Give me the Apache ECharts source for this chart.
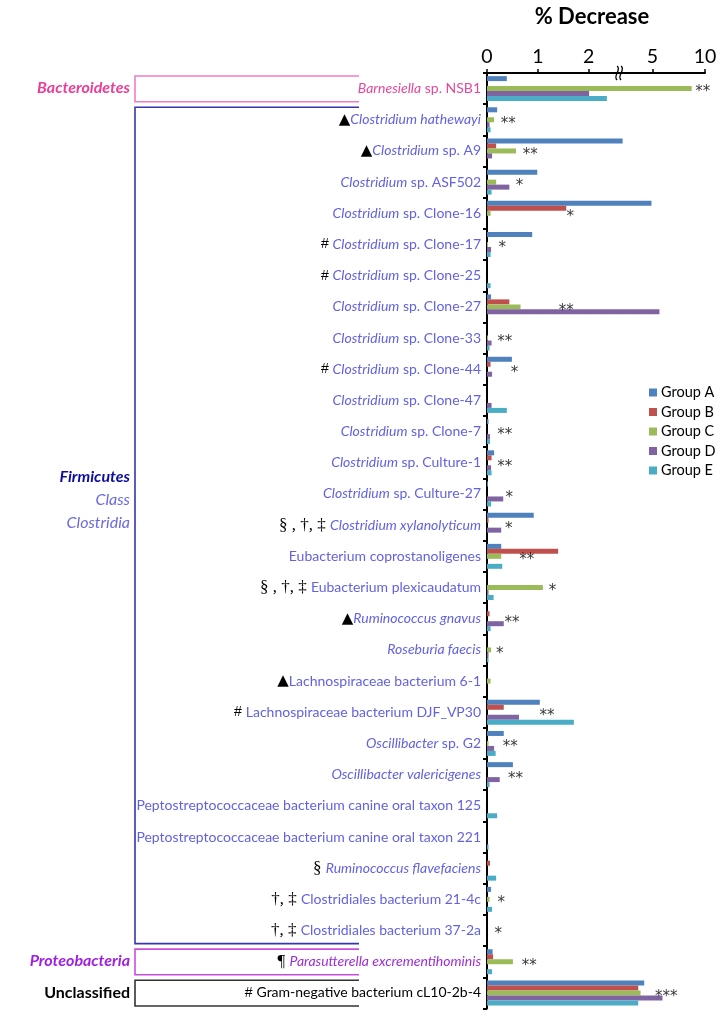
<!DOCTYPE html>
<html><head><meta charset="utf-8">
<script src="https://cdn.jsdelivr.net/npm/echarts@6/dist/echarts.min.js"></script>
<style>html,body{margin:0;padding:0;background:#fff}#c{width:726px;height:1018px}</style>
</head><body><div id="c"></div>
<script>
// ---------------- data ----------------
const categories = [
  "Barnesiella sp. NSB1",
  "▲Clostridium hathewayi",
  "▲Clostridium sp. A9",
  "Clostridium sp. ASF502",
  "Clostridium sp. Clone-16",
  "# Clostridium sp. Clone-17",
  "# Clostridium sp. Clone-25",
  "Clostridium sp. Clone-27",
  "Clostridium sp. Clone-33",
  "# Clostridium sp. Clone-44",
  "Clostridium sp. Clone-47",
  "Clostridium sp. Clone-7",
  "Clostridium sp. Culture-1",
  "Clostridium sp. Culture-27",
  "§ , †, ‡ Clostridium xylanolyticum",
  "Eubacterium coprostanoligenes",
  "§ , †, ‡ Eubacterium plexicaudatum",
  "▲Ruminococcus gnavus",
  "Roseburia faecis",
  "▲Lachnospiraceae bacterium 6-1",
  "# Lachnospiraceae bacterium DJF_VP30",
  "Oscillibacter sp. G2",
  "Oscillibacter valericigenes",
  "Peptostreptococcaceae bacterium canine oral taxon 125",
  "Peptostreptococcaceae bacterium canine oral taxon 221",
  "§ Ruminococcus flavefaciens",
  "†, ‡ Clostridiales bacterium 21-4c",
  "†, ‡ Clostridiales bacterium 37-2a",
  "¶ Parasutterella excrementihominis",
  "# Gram-negative bacterium cL10-2b-4"
];
const groupNames = ["Group A", "Group B", "Group C", "Group D", "Group E"];
const groupA = [0.39,0.20,2.67,0.99,4.90,0.89,0,0.08,0,0.49,0,0.03,0.14,0.02,0.92,0.28,0,0,0,0,1.04,0.33,0.51,0,0,0,0.08,0,0.11,4.21];
const groupB = [0,0,0.18,0,1.56,0,0,0.44,0,0.07,0,0,0.09,0,0.03,1.40,0,0.05,0,0,0.33,0,0,0,0,0.06,0,0,0.12,3.64];
const groupC = [8.73,0.14,0.57,0.18,0.07,0.02,0,0.66,0.02,0,0,0,0,0,0,0.28,1.10,0,0.08,0.07,0,0.03,0,0,0,0,0.05,0,0.51,3.86];
const groupD = [2.01,0.05,0.10,0.44,0,0.08,0,5.66,0.09,0.10,0.09,0.06,0.08,0.32,0.28,0,0.03,0.33,0.03,0,0.63,0.14,0.25,0,0,0,0,0,0,5.95];
const groupE = [2.36,0.07,0,0.09,0,0.07,0.07,0,0.05,0,0.39,0.06,0.09,0.08,0,0.30,0.13,0.07,0.03,0,1.71,0.17,0.05,0.20,0.03,0.18,0.10,0,0.10,3.64];
const significance = ["**","**","**","*","*","*","","**","**","*","","**","**","*","*","**","*","**","*","","**","**","**","","","","*","*","**","***"];
const significanceAt = [9.78,0.42,0.85,0.64,1.64,0.30,null,1.56,0.35,0.54,null,0.35,0.35,0.44,0.43,0.78,1.29,0.49,0.25,null,1.18,0.46,0.56,null,null,null,0.28,0.22,0.83,6.32];
const tickValues = [0, 1, 2, 5, 10];
const phyla = ["Bacteroidetes", "Firmicutes", "Proteobacteria", "Unclassified"];

// ---------------- broken axis transform ----------------
const BREAK_LOW = 2.7;      // lower segment runs linearly up to here
const BREAK_MARK = 2.6;     // where the break symbol is drawn (axis units)
const U5 = 3.258, USLOPE = 0.2066; // upper segment: 5 -> U5, slope per unit
function toAxis(v) { return v <= BREAK_LOW ? v : U5 + (v - 5) * USLOPE; }
function fromAxis(u) { return u <= BREAK_LOW ? u : 5 + (u - U5) / USLOPE; }

// ---------------- styling ----------------
const colors = ["#4F81BD", "#C0504D", "#9BBB59", "#8064A2", "#4BACC6"];
const FONT = "Lato";
const GRID_LEFT = 487, GRID_RIGHT = 21, GRID_TOP = 73, GRID_BOTTOM = 9.5;
const ROW_H = (1018 - GRID_TOP - GRID_BOTTOM) / categories.length;

function labelColorKey(i) {
  if (i === 0) return "pk";
  if (i === 28) return "pu";
  if (i === 29) return "bk";
  return "bl";
}
function richLabel(name, i) {
  const m = name.match(/^([▲#§†‡¶ ,]*)(.*)$/);
  const prefix = m[1], rest = m[2];
  const c = labelColorKey(i);
  let out = "";
  if (prefix) out += (/[#▲]/.test(prefix) ? (/▲/.test(prefix) ? "{tri|" : "{symS|") : "{sym|") + prefix + "}";
  if (/bacterium/.test(rest)) out += "{" + c + "N|" + rest + "}";
  else if (rest.indexOf(" sp. ") > 0) {
    const k = rest.indexOf(" sp. ");
    out += "{" + c + "I|" + rest.slice(0, k) + "}{" + c + "N|" + rest.slice(k) + "}";
  } else out += "{" + c + "I|" + rest + "}";
  return out;
}
const labelColors = { bl: "#6262E2", pk: "#E8479B", pu: "#9D2ED6", bk: "#000000" };
const rich = {
  sym: { fontFamily: "Liberation Serif", fontSize: 17, color: "#000" },
  symS: { fontFamily: "Liberation Sans", fontSize: 14, color: "#000" },
  tri: { fontFamily: "DejaVu Sans", fontSize: 15, color: "#000" }
};
Object.keys(labelColors).forEach(k => {
  rich[k + "I"] = { fontFamily: FONT, fontSize: 14, fontStyle: "italic", color: labelColors[k] };
  rich[k + "N"] = { fontFamily: FONT, fontSize: 14, color: labelColors[k] };
});

const groups = [groupA, groupB, groupC, groupD, groupE];
const series = groups.map((g, gi) => ({
  name: groupNames[gi],
  type: "bar",
  data: g.map(toAxis),
  itemStyle: { color: colors[gi] },
  barGap: "0%",
  barCategoryGap: "20%",
  silent: true
}));
const sigData = [];
significanceAt.forEach((x, i) => {
  if (x != null && significance[i]) sigData.push({ value: [toAxis(x), i], sig: significance[i] });
});
series.push({
  name: "sig",
  type: "scatter",
  symbol: "circle",
  symbolSize: 2,
  itemStyle: { color: "rgba(0,0,0,0)" },
  silent: true,
  z: 5,
  data: sigData,
  label: {
    show: true, position: "inside", offset: [0, 4],
    formatter: p => p.data.sig,
    fontFamily: "DejaVu Sans", fontSize: 15, color: "#000"
  }
});

const chart = echarts.init(document.getElementById("c"), null, { renderer: "canvas" });
chart.setOption({
  animation: false,
  backgroundColor: "#fff",
  grid: { left: GRID_LEFT, right: GRID_RIGHT, top: GRID_TOP, bottom: GRID_BOTTOM, containLabel: false },
  legend: {
    data: groupNames, orient: "vertical", left: 649, top: 385, itemWidth: 8, itemHeight: 8,
    itemGap: 4.5, icon: "rect", padding: 0,
    textStyle: { fontFamily: FONT, fontSize: 14.5, color: "#000", padding: [0, 0, 0, -1] }
  },
  xAxis: {
    type: "value", position: "top", min: 0, max: toAxis(10),
    axisLine: { show: true, lineStyle: { color: "#000", width: 2 } },
    axisTick: { show: true, customValues: tickValues.map(toAxis), length: 4, lineStyle: { color: "#000", width: 1.5 } },
    axisLabel: {
      customValues: tickValues.map(toAxis),
      formatter: v => String(Math.round(fromAxis(v))),
      fontFamily: FONT, fontSize: 19.5, color: "#000", margin: 6
    },
    splitLine: { show: false }
  },
  yAxis: {
    type: "category", inverse: true, data: categories,
    axisLine: { show: true, lineStyle: { color: "#000", width: 2 } },
    axisTick: { show: true, length: 4, alignWithLabel: false, lineStyle: { color: "#000", width: 2 } },
    axisLabel: { formatter: (v, i) => richLabel(v, i), rich: rich, margin: 6, interval: 0 }
  },
  series: series
});

// ---------------- decorations: group boxes, phylum headings, axis break ----------------
const BOX_L = 135, BOX_R = 359;
function rowTop(i) { return GRID_TOP + i * ROW_H; }
function boxLines(r0, r1, color, id) {
  const t = rowTop(r0) + 3, b = rowTop(r1 + 1) - 2.5;
  return { id: id, type: "polyline", shape: { points: [[BOX_R, t], [BOX_L, t], [BOX_L, b], [BOX_R, b]] },
    style: { stroke: color, lineWidth: 1.6, fill: null }, silent: true };
}
function heading(id, text, y, color, weight, style) {
  return { id: id, type: "text", x: 130, y: y, silent: true,
    style: { text: text, align: "right", verticalAlign: "middle", fill: color,
      font: style + " " + weight + " 16px " + FONT } };
}
const bx = chart.convertToPixel({ xAxisIndex: 0 }, BREAK_MARK);
const ay = GRID_TOP;
const graphics = [
  boxLines(0, 0, "#F07DC2", "b0"),
  boxLines(1, 27, "#3535B0", "b1"),
  boxLines(28, 28, "#C94EDF", "b2"),
  boxLines(29, 29, "#333333", "b3"),
  heading("h0", phyla[0], rowTop(0) + ROW_H / 2 - 1, "#EA3F98", "bold", "italic"),
  heading("h1", phyla[1], 477, "#0C0CA3", "bold", "italic"),
  heading("h1a", "Class", 500, "#6A6ADF", "normal", "italic"),
  heading("h1b", "Clostridia", 523, "#6A6ADF", "normal", "italic"),
  heading("h2", phyla[2], rowTop(28) + ROW_H / 2 - 1, "#A01FE0", "bold", "italic"),
  heading("h3", phyla[3], rowTop(29) + ROW_H / 2, "#000000", "bold", "normal"),
  { id: "title", type: "text", x: 592, y: 17, silent: true,
    style: { text: "% Decrease", align: "center", verticalAlign: "middle", fill: "#000", font: "bold 22px " + FONT } },
  { id: "brk", type: "rect", shape: { x: bx - 4, y: ay - 3, width: 8, height: 6 }, style: { fill: "#fff" }, silent: true },
  { id: "brk1", type: "bezierCurve", shape: { x1: bx - 2, y1: ay - 7, cpx1: bx + 3, cpy1: ay - 3, cpx2: bx - 7, cpy2: ay + 3, x2: bx - 2, y2: ay + 7 },
    style: { stroke: "#000", lineWidth: 1.3, fill: null }, silent: true },
  { id: "brk2", type: "bezierCurve", shape: { x1: bx + 2, y1: ay - 7, cpx1: bx + 7, cpy1: ay - 3, cpx2: bx - 3, cpy2: ay + 3, x2: bx + 2, y2: ay + 7 },
    style: { stroke: "#000", lineWidth: 1.3, fill: null }, silent: true }
];
chart.setOption({ graphic: graphics });
</script>
</body></html>
